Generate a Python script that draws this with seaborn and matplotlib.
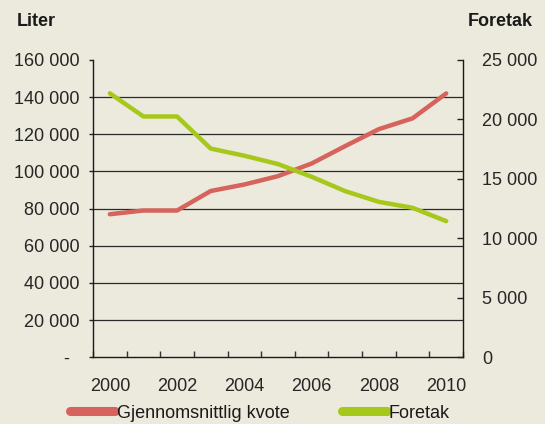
import numpy as np
import pandas as pd
import matplotlib
matplotlib.use('Agg')
import matplotlib.pyplot as plt
import matplotlib.ticker as mtick
import seaborn as sns

# data
years = [2000, 2001, 2002, 2003, 2004, 2005, 2006, 2007, 2008, 2009, 2010]
kvote = [77000, 79000, 79000, 89500, 93000, 97500, 104300, 113700, 122800, 128600, 142000]
foretak = [22200, 20250, 20250, 17550, 16950, 16250, 15180, 13970, 13070, 12570, 11450]
liter_ticks = [0, 20000, 40000, 60000, 80000, 100000, 120000, 140000, 160000]
foretak_ticks = [0, 5000, 10000, 15000, 20000, 25000]
year_labels = [2000, 2002, 2004, 2006, 2008, 2010]

df = pd.DataFrame({'year': years, 'kvote': kvote, 'foretak': foretak})

bg = '#ece9dd'
red = '#d6635c'
green = '#a6c81a'

sns.set_theme(style='ticks')
plt.rcParams['font.family'] = ['Liberation Sans', 'DejaVu Sans']
plt.rcParams['text.color'] = '#1a1a1a'

fig = plt.figure(figsize=(5.45, 4.24), dpi=100, facecolor=bg)
ax = fig.add_axes([93 / 545, 1 - 357.3 / 424, 370 / 545, 297.3 / 424])
ax.set_facecolor(bg)
ax2 = ax.twinx()

sns.lineplot(data=df, x='year', y='kvote', ax=ax, color=red, lw=3.2,
             solid_capstyle='round', label='Gjennomsnittlig kvote', legend=False)
sns.lineplot(data=df, x='year', y='foretak', ax=ax2, color=green, lw=3.2,
             solid_capstyle='round', label='Foretak', legend=False)

ax.set_xlim(1999.5, 2010.5)
ax.set_ylim(0, 160000)
ax2.set_ylim(0, 25000)

# gridlines
for v in liter_ticks[1:-1]:
    ax.axhline(v, color='#2a2a2a', lw=0.9, zorder=0.5)

fs = 13

def liter_fmt(v, pos):
    if v == 0:
        return '-  '
    return f'{int(v):,}'.replace(',', ' ')

ax.set_yticks(liter_ticks)
ax.yaxis.set_major_formatter(mtick.FuncFormatter(liter_fmt))
ax.tick_params(axis='y', direction='out', length=3, width=1, color='#222222',
               pad=6.5, labelsize=fs)

ax2.set_yticks(foretak_ticks)
ax2.yaxis.set_major_formatter(mtick.FuncFormatter(lambda v, p: f'{int(v):,}'.replace(',', ' ')))
ax2.tick_params(axis='y', direction='in', length=4.3, width=1, color='#222222',
                pad=13.5, labelsize=fs)

ax.set_xticks(year_labels)
ax.set_xticklabels([str(y) for y in year_labels])
ax.set_xticks(np.arange(1999.5, 2011, 1.0), minor=True)
ax.tick_params(axis='x', which='major', length=0, pad=15, labelsize=fs)
ax.tick_params(axis='x', which='minor', direction='in', length=4.5, width=1, color='#333333')

ax.set_xlabel('')
ax.set_ylabel('')
ax2.set_ylabel('')

for a in (ax, ax2):
    a.spines['top'].set_visible(False)
    for s in ('left', 'right', 'bottom'):
        a.spines[s].set_color('#1a1a1a')
        a.spines[s].set_linewidth(1.0)
ax.spines['right'].set_visible(False)
ax2.spines['left'].set_visible(False)
ax2.spines['bottom'].set_visible(False)

fig.text(16.7 / 545, 1 - 21 / 424, 'Liter', fontsize=fs, fontweight='bold', va='center', ha='left')
fig.text(532.5 / 545, 1 - 21 / 424, 'Foretak', fontsize=fs, fontweight='bold', va='center', ha='right')

h1, l1 = ax.get_legend_handles_labels()
h2, l2 = ax2.get_legend_handles_labels()
leg = fig.legend(h1 + h2, l1 + l2, loc='center left', bbox_to_anchor=(70 / 545, 11 / 424),
                 ncol=2, frameon=False, fontsize=fs, handlelength=2.5, handletextpad=0.1,
                 columnspacing=2.9, borderpad=0, borderaxespad=0)
for lh in leg.get_lines():
    lh.set_linewidth(6.5)
    lh.set_solid_capstyle('round')

fig.savefig('out.png', dpi=100, facecolor=bg)
